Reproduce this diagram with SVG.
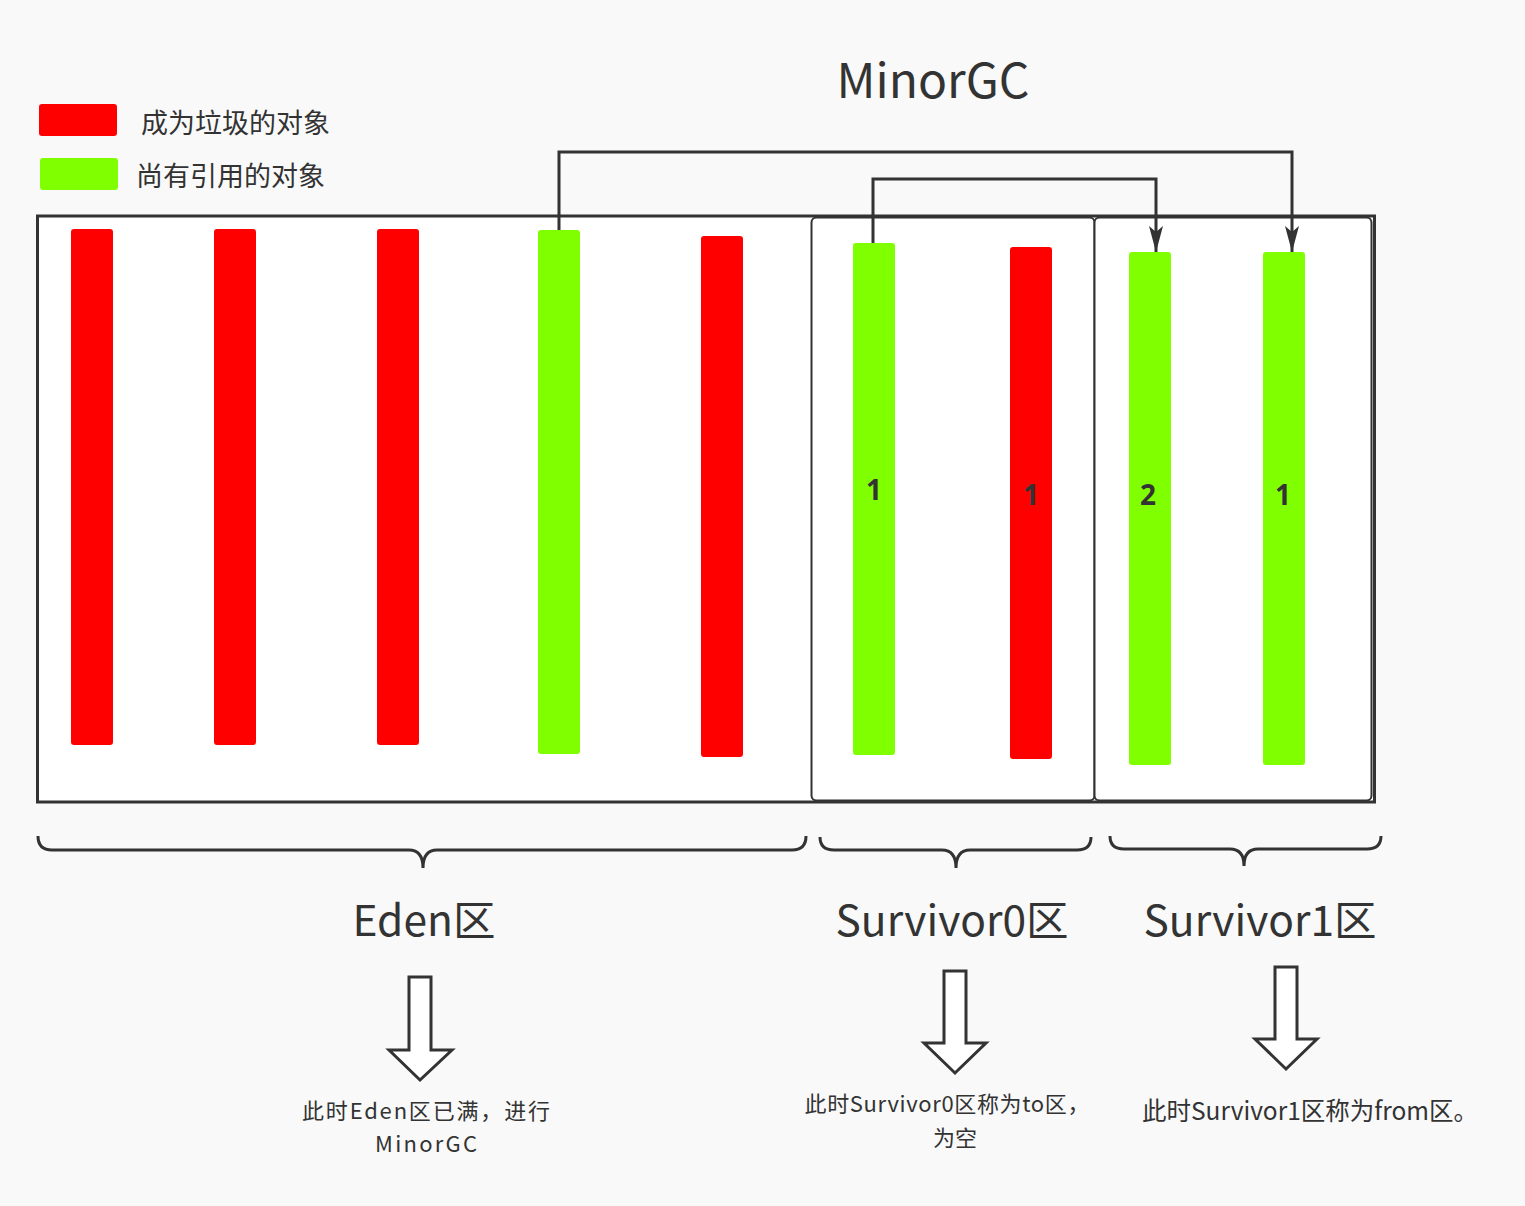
<svg xmlns="http://www.w3.org/2000/svg" width="1525" height="1206" viewBox="0 0 1525 1206">
<defs>
<style>
.t{font-family:"Noto Sans CJK SC","Noto Sans",sans-serif;fill:#333333}
.red{fill:#ff0000}
.green{fill:#80ff00}
.box{fill:#ffffff;stroke:#333333;stroke-width:2}
.conn{fill:none;stroke:#333333;stroke-width:3}
.brace{fill:none;stroke:#333333;stroke-width:3}
.barrow{fill:#ffffff;stroke:#333333;stroke-width:3}
.num{font-family:"Noto Sans","Liberation Sans",sans-serif;font-weight:bold;font-size:28px;fill:#333333;text-anchor:middle}
</style>
<marker id="ah" viewBox="0 0 26 14" refX="26" refY="7" markerWidth="26" markerHeight="14" markerUnits="userSpaceOnUse" orient="auto">
<path d="M0,0 L6,7 L0,14 L26,7 Z" fill="#333333"/>
</marker>
</defs>
<rect x="0" y="0" width="1525" height="1206" fill="#f9f9f9"/>

<g id="legend">
<rect x="39" y="104" width="78" height="32" rx="3" class="red"/>
<text x="141" y="133" class="t" font-size="27">成为垃圾的对象</text>
<rect x="40" y="158" width="78" height="32" rx="3" class="green"/>
<text x="136" y="186" class="t" font-size="27">尚有引用的对象</text>
</g>

<g id="title">
<text x="933" y="98" class="t" font-size="48" text-anchor="middle">MinorGC</text>
</g>

<g id="heap">
<rect x="37.5" y="216" width="1337" height="586" fill="#ffffff" stroke="#333333" stroke-width="3"/>
</g>
<g id="survivor0-box">
<rect x="811.5" y="217.5" width="283" height="583" rx="5" class="box"/>
</g>
<g id="survivor1-box">
<rect x="1094.5" y="217.5" width="277" height="583" rx="5" class="box"/>
</g>

<g id="eden-objects">
<rect id="e1" x="71" y="229" width="42" height="516" rx="3" class="red"/>
<rect id="e2" x="214" y="229" width="42" height="516" rx="3" class="red"/>
<rect id="e3" x="377" y="229" width="42" height="516" rx="3" class="red"/>
<rect id="e4" x="538" y="230" width="42" height="524" rx="3" class="green"/>
<rect id="e5" x="701" y="236" width="42" height="521" rx="3" class="red"/>
</g>
<g id="s0-objects">
<g id="s0a"><rect x="853" y="243" width="42" height="512" rx="3" class="green"/><text x="874" y="500" class="num">1</text></g>
<g id="s0b"><rect x="1010" y="247" width="42" height="512" rx="3" class="red"/><text x="1031" y="505" class="num">1</text></g>
</g>
<g id="s1-objects">
<g id="s1a"><rect x="1129" y="252" width="42" height="513" rx="3" class="green"/><text x="1148" y="505" class="num">2</text></g>
<g id="s1b"><rect x="1263" y="252" width="42" height="513" rx="3" class="green"/><text x="1283" y="505" class="num">1</text></g>
</g>

<g id="connectors">
<path d="M559,230 L559,152 L1292,152 L1292,252" class="conn" marker-end="url(#ah)"/>
<path d="M873,243 L873,179 L1156,179 L1156,252" class="conn" marker-end="url(#ah)"/>
</g>

<g id="braces">
<path d="M38,836 Q38,850 52,850 L409,850 Q423,850 423,868 Q423,850 437,850 L792,850 Q806,850 806,836" class="brace"/>
<path d="M820,837 Q820,850 834,850 L942,850 Q956,850 956,868 Q956,850 970,850 L1077,850 Q1091,850 1091,837" class="brace"/>
<path d="M1110,836 Q1110,849 1124,849 L1230,849 Q1244,849 1244,866 Q1244,849 1258,849 L1367,849 Q1381,849 1381,836" class="brace"/>
</g>

<g id="labels">
<text x="424" y="936" class="t" font-size="42.5" text-anchor="middle">Eden区</text>
<text x="952" y="936" class="t" font-size="42.5" text-anchor="middle">Survivor0区</text>
<text x="1260" y="936" class="t" font-size="42.5" text-anchor="middle">Survivor1区</text>
</g>

<g id="down-arrows">
<path d="M409,977 L431,977 L431,1050 L452,1050 L420,1080 L389,1050 L409,1050 Z" class="barrow"/>
<path d="M944,971 L966,971 L966,1043 L986,1043 L955,1073 L924,1043 L944,1043 Z" class="barrow"/>
<path d="M1275,967 L1297,967 L1297,1039 L1317,1039 L1286,1069 L1255,1039 L1275,1039 Z" class="barrow"/>
</g>

<g id="notes">
<text x="426" y="1119" class="t" font-size="22" text-anchor="middle" textLength="248" lengthAdjust="spacing">此时Eden区已满，进行</text>
<text x="426" y="1152" class="t" font-size="22" text-anchor="middle" textLength="102" lengthAdjust="spacing">MinorGC</text>
<text x="947" y="1112" class="t" font-size="22" text-anchor="middle" textLength="285" lengthAdjust="spacing">此时Survivor0区称为to区，</text>
<text x="955" y="1146" class="t" font-size="22" text-anchor="middle">为空</text>
<text x="1310" y="1120" class="t" font-size="24.5" text-anchor="middle">此时Survivor1区称为from区。</text>
</g>
</svg>
